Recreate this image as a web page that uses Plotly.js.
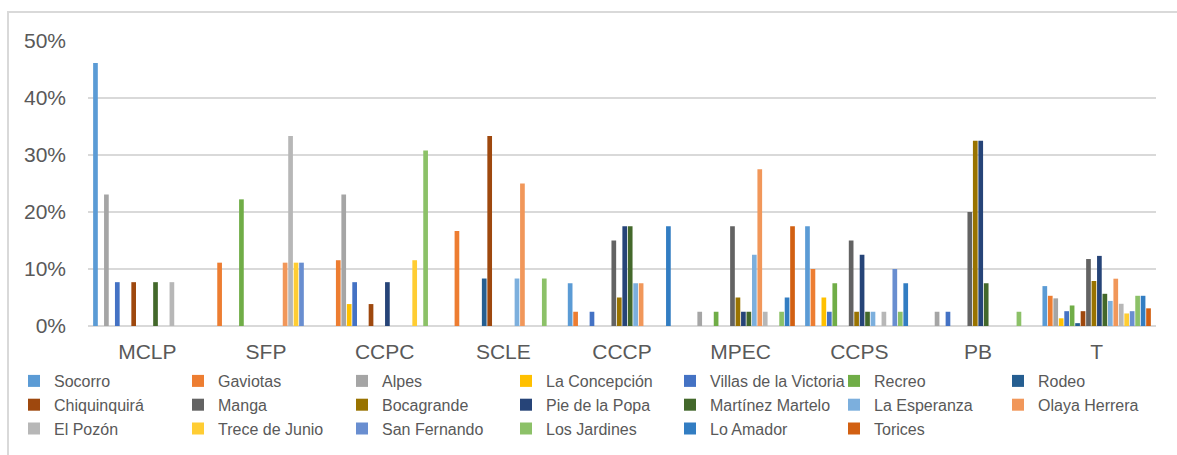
<!DOCTYPE html>
<html>
<head>
<meta charset="utf-8">
<script src="https://cdn.plot.ly/plotly-3.0.1.min.js"></script>
<style>
  html, body { margin: 0; padding: 0; background: #ffffff; }
  #wrap { position: relative; width: 1177px; height: 455px; overflow: hidden; }
  #frame { position: absolute; left: 7px; top: 11px; width: 1200px; height: 500px;
           border-left: 2px solid #d9d9d9; border-top: 2px solid #d9d9d9; pointer-events: none; }
  #chart { position: absolute; left: 0; top: 0; width: 1177px; height: 480px; }
</style>
</head>
<body>
<div id="wrap">
  <div id="chart"></div>
  <div id="frame"></div>
</div>
<script>
// Indicator groups on the category axis
const categories = ["MCLP", "SFP", "CCPC", "SCLE", "CCCP", "MPEC", "CCPS", "PB", "T"];

// Share (%) per neighbourhood for each indicator group
const socorro         = [46.15, 0,     0,     0,     7.5,  0,    17.5, 0,    7.0];
const gaviotas        = [0,     11.11, 11.54, 16.67, 2.5,  0,    10,   0,    5.3];
const alpes           = [23.08, 0,     23.08, 0,     0,    2.5,  0,    2.5,  4.85];
const laConcepcion    = [0,     0,     3.85,  0,     0,    0,    5,    0,    1.35];
const villasVictoria  = [7.69,  0,     7.69,  0,     2.5,  0,    2.5,  2.5,  2.6];
const recreo          = [0,     22.22, 0,     0,     0,    2.5,  7.5,  0,    3.6];
const rodeo           = [0,     0,     0,     8.33,  0,    0,    0,    0,    0.5];
const chiquinquira    = [7.69,  0,     3.85,  33.33, 0,    0,    0,    0,    2.6];
const manga           = [0,     0,     0,     0,     15,   17.5, 15,   20,   11.75];
const bocagrande      = [0,     0,     0,     0,     5,    5,    2.5,  32.5, 7.9];
const pieDeLaPopa     = [0,     0,     7.69,  0,     17.5, 2.5,  12.5, 32.5, 12.3];
const martinezMartelo = [7.69,  0,     0,     0,     17.5, 2.5,  2.5,  7.5,  5.65];
const laEsperanza     = [0,     0,     0,     8.33,  7.5,  12.5, 2.5,  0,    4.4];
const olayaHerrera    = [0,     11.11, 0,     25,    7.5,  27.5, 0,    0,    8.3];
const elPozon         = [7.69,  33.33, 0,     0,     0,    2.5,  2.5,  0,    3.9];
const treceDeJunio    = [0,     11.11, 11.54, 0,     0,    0,    0,    0,    2.2];
const sanFernando     = [0,     11.11, 0,     0,     0,    0,    10,   0,    2.6];
const losJardines     = [0,     0,     30.77, 8.33,  0,    2.5,  2.5,  2.5,  5.3];
const loAmador        = [0,     0,     0,     0,     17.5, 5,    7.5,  0,    5.3];
const torices         = [0,     0,     0,     0,     0,    17.5, 0,    0,    3.1];

const seriesNames = ["Socorro", "Gaviotas", "Alpes", "La Concepción", "Villas de la Victoria",
  "Recreo", "Rodeo", "Chiquinquirá", "Manga", "Bocagrande", "Pie de la Popa",
  "Martínez Martelo", "La Esperanza", "Olaya Herrera", "El Pozón", "Trece de Junio",
  "San Fernando", "Los Jardines", "Lo Amador", "Torices"];

const seriesValues = [socorro, gaviotas, alpes, laConcepcion, villasVictoria, recreo, rodeo,
  chiquinquira, manga, bocagrande, pieDeLaPopa, martinezMartelo, laEsperanza, olayaHerrera,
  elPozon, treceDeJunio, sanFernando, losJardines, loAmador, torices];

const seriesColors = ["#5B9BD5", "#ED7D31", "#A5A5A5", "#FFC000", "#4472C4", "#70AD47",
  "#255E91", "#9E480E", "#636363", "#997300", "#264478", "#43682B", "#7CAFDD", "#F1975A",
  "#B7B7B7", "#FFCD33", "#698ED0", "#8CC168", "#327DC2", "#D26012"];

const fontFamily = '"Liberation Sans", Arial, sans-serif';
const textColor = "#595959";
const gridColor = "#d9d9d9";

const traces = seriesNames.map((name, i) => ({
  type: "bar",
  name: name,
  x: categories,
  y: seriesValues[i].map(v => v / 100),
  marker: { color: seriesColors[i], line: { width: 0 } },
  hoverinfo: "name+y"
}));

// Figure is drawn a little taller than the visible card so the legend
// never pushes the bottom margin; the card clips the spare space.
const plotLeft = 88, plotRight = 1156, plotTop = 41, plotBottom = 326;
const W = 1177, H = 480;
const plotW = plotRight - plotLeft, plotH = plotBottom - plotTop;

const layout = {
  width: W,
  height: H,
  margin: { l: plotLeft, r: W - plotRight, t: plotTop, b: H - plotBottom, pad: 0 },
  paper_bgcolor: "rgba(0,0,0,0)",
  plot_bgcolor: "rgba(0,0,0,0)",
  barmode: "group",
  bargap: 0.08,
  bargroupgap: 0.14,
  showlegend: true,
  font: { family: fontFamily, color: textColor },
  xaxis: {
    type: "category",
    showgrid: false,
    showline: false,
    ticks: "",
    tickfont: { family: fontFamily, size: 21, color: textColor },
    ticklabelstandoff: 11,
    fixedrange: true
  },
  yaxis: {
    range: [0, 0.5],
    dtick: 0.1,
    tick0: 0,
    tickformat: ".0%",
    showgrid: true,
    gridcolor: gridColor,
    gridwidth: 2,
    zeroline: true,
    zerolinecolor: gridColor,
    zerolinewidth: 2,
    showline: false,
    ticks: "",
    tickfont: { family: fontFamily, size: 21, color: textColor },
    ticklabelstandoff: 21,
    fixedrange: true
  },
  legend: {
    orientation: "h",
    traceorder: "normal",
    x: (14 - plotLeft) / plotW,
    xanchor: "left",
    y: (plotBottom - 364) / plotH,
    yanchor: "top",
    entrywidth: 119,
    entrywidthmode: "pixels",
    itemwidth: 30,
    font: { family: fontFamily, size: 16, color: textColor },
    bgcolor: "rgba(0,0,0,0)",
    borderwidth: 0
  }
};

Plotly.newPlot("chart", traces, layout, { displayModeBar: false, staticPlot: true });
</script>
</body>
</html>
